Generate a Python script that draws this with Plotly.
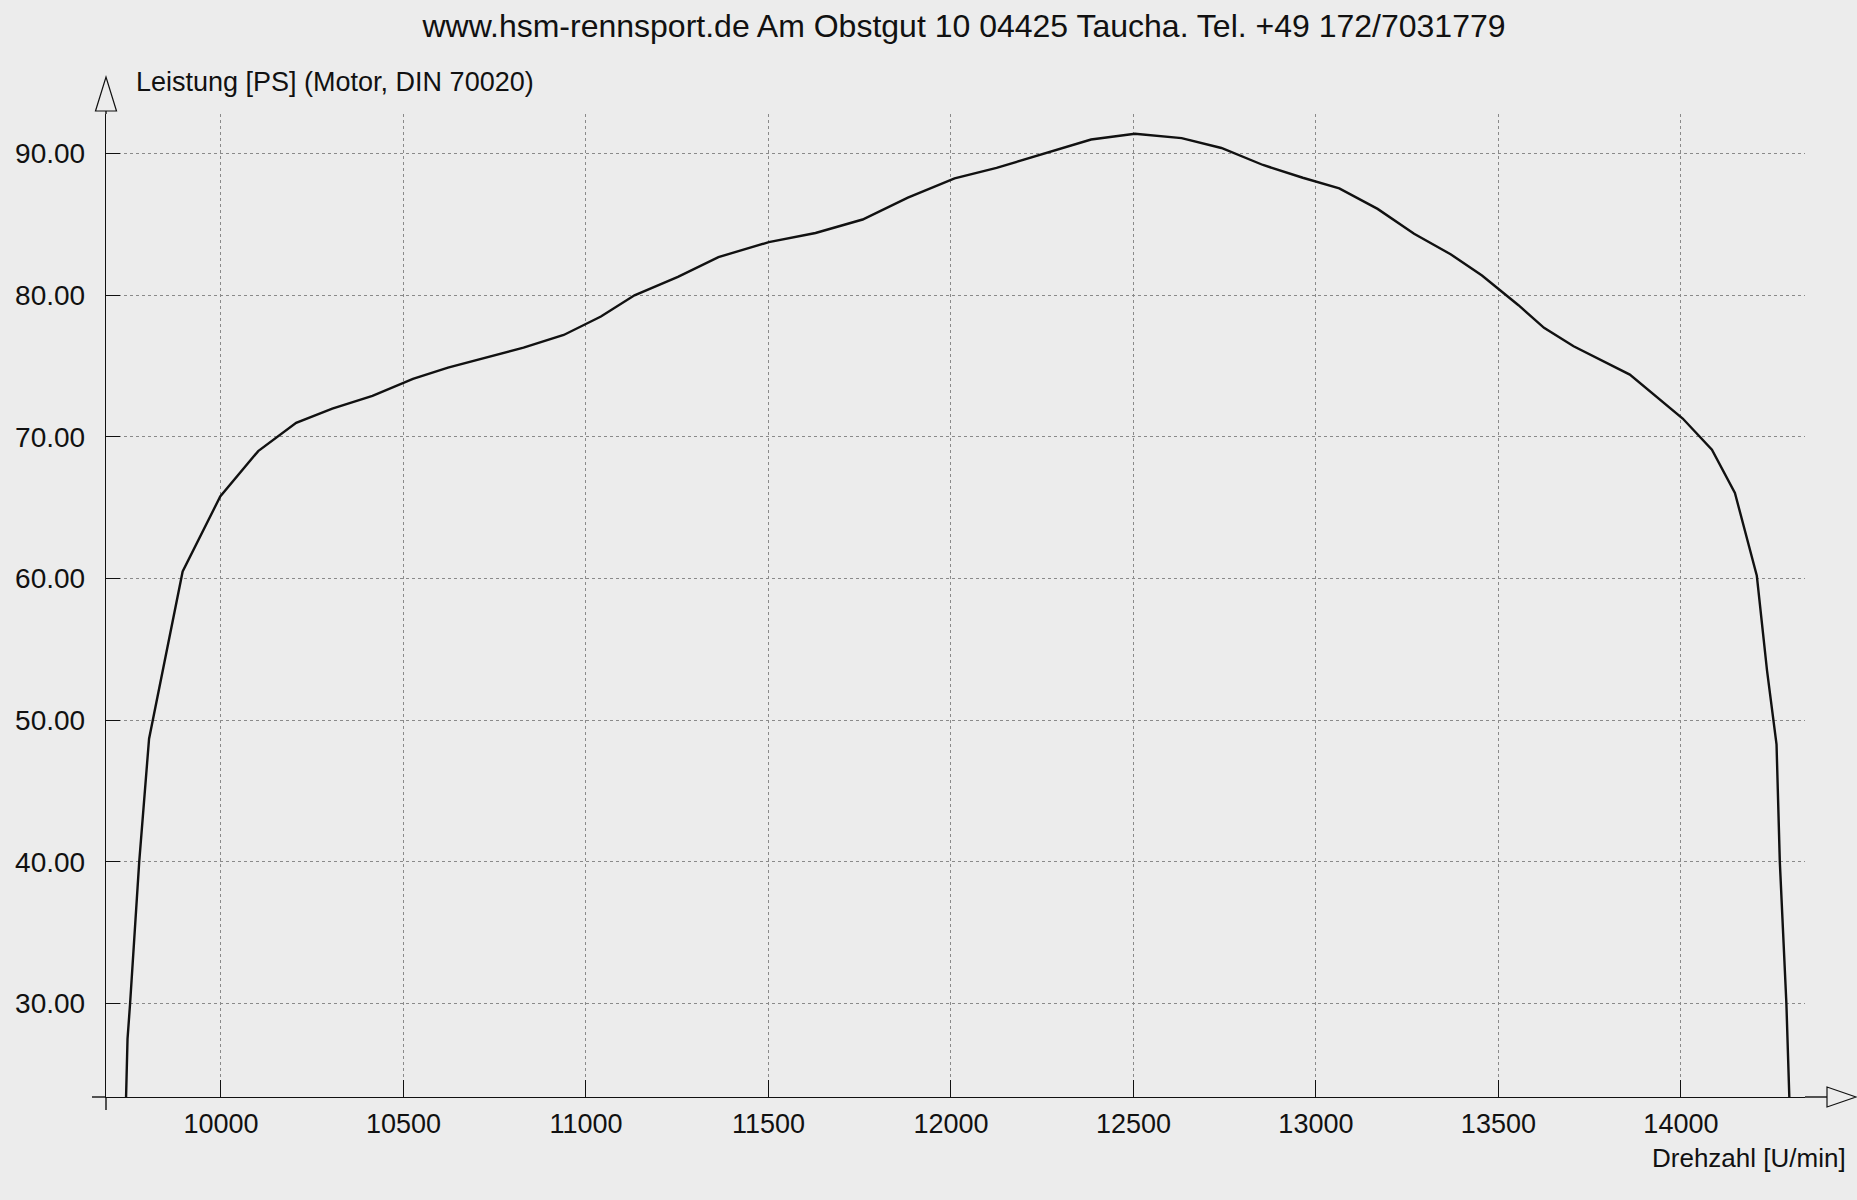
import plotly.graph_objects as go

# Leistungskurve (gelesen aus dem Diagramm)
rpm = [9740, 9744, 9751, 9776, 9803, 9895, 9998, 10102, 10206, 10305,
       10415, 10526, 10622, 10728, 10829, 10939, 11041, 11133, 11252, 11363,
       11501, 11629, 11758, 11882, 12010, 12125, 12384, 12504, 12632, 12741,
       12855, 12964, 13064, 13169, 13269, 13369, 13455, 13555, 13625, 13706,
       13860, 14005, 14085, 14148, 14208, 14236, 14262, 14271, 14289, 14297]
leistung = [23.4, 27.5, 30.0, 40.0, 48.7, 60.5, 65.8, 69.0, 71.0, 72.0,
            72.9, 74.1, 74.9, 75.6, 76.3, 77.2, 78.5, 80.0, 81.3, 82.7,
            83.75, 84.4, 85.35, 86.9, 88.25, 89.0, 91.0, 91.4, 91.1, 90.4,
            89.2, 88.3, 87.55, 86.1, 84.35, 82.9, 81.4, 79.3, 77.7, 76.4,
            74.4, 71.3, 69.1, 66.05, 60.2, 53.5, 48.3, 40.0, 30.0, 23.4]

rpm_ticks = [10000, 10500, 11000, 11500, 12000, 12500, 13000, 13500, 14000]
rpm_labels = ["10000", "10500", "11000", "11500", "12000", "12500", "13000", "13500", "14000"]
ps_ticks = [30, 40, 50, 60, 70, 80, 90]
ps_labels = ["30.00", "40.00", "50.00", "60.00", "70.00", "80.00", "90.00"]

x_range = [9685, 14340]
y_range = [23.4, 92.8]

W, H = 1857, 1200
L, R, T, B = 106, 52, 114, 103
pw, ph = W - L - R, H - T - B
BG = "#ececec"
INK = "#111111"
FONT = "Arial, Liberation Sans, sans-serif"


def px(x):
    return (x - L) / pw


def py(y):
    return (H - B - y) / ph


fig = go.Figure()
fig.add_trace(go.Scatter(x=rpm, y=leistung, mode="lines",
                         line=dict(color=INK, width=2.4),
                         showlegend=False, hoverinfo="skip"))

grid = dict(showgrid=True, griddash="dot", gridcolor="#8a8a8a", gridwidth=1)

fig.update_layout(
    width=W, height=H,
    margin=dict(l=L, r=R, t=T, b=B),
    paper_bgcolor=BG, plot_bgcolor=BG,
    title=dict(text="www.hsm-rennsport.de Am Obstgut 10 04425 Taucha. Tel. +49 172/7031779",
               x=964 / W, y=1 - 26 / H, xanchor="center", yanchor="middle",
               font=dict(family=FONT, size=32, color=INK)),
    # Hauptachsen: Beschriftung + Striche nach innen
    xaxis=dict(range=x_range, tickvals=rpm_ticks, ticktext=rpm_labels,
               ticks="inside", ticklen=17, tickwidth=1.2, tickcolor=INK,
               ticklabelstandoff=2,
               tickfont=dict(family=FONT, size=27, color=INK),
               showline=True, linecolor=INK, linewidth=1.4, zeroline=False, **grid),
    yaxis=dict(range=y_range, tickvals=ps_ticks, ticktext=ps_labels,
               ticks="inside", ticklen=14, tickwidth=1.2, tickcolor=INK,
               ticklabelstandoff=14,
               tickfont=dict(family=FONT, size=28, color=INK),
               showline=True, linecolor=INK, linewidth=1.4, zeroline=False, **grid),
    # zweite Achsen nur fuer die Striche nach aussen
    xaxis2=dict(range=x_range, overlaying="x", anchor="y2", side="bottom",
                tickvals=rpm_ticks, ticks="outside", ticklen=13, tickcolor=INK,
                tickwidth=1.2, showticklabels=False, showgrid=False, zeroline=False),
    yaxis2=dict(range=y_range, overlaying="y", anchor="x2", side="left",
                tickvals=ps_ticks, ticks="outside", ticklen=14, tickcolor=INK,
                tickwidth=1.2, showticklabels=False, showgrid=False, zeroline=False),
)

line_style = dict(color=INK, width=1.4)
shapes = [
    # Y-Achse Verlaengerung und Pfeil
    dict(type="line", xref="paper", yref="paper", x0=0, x1=0, y0=1, y1=py(111), line=line_style),
    dict(type="path", xref="paper", yref="paper",
         path=f"M {px(95.5)},{py(111)} L {px(116.5)},{py(111)} L {px(106)},{py(77)} Z",
         fillcolor=BG, line=dict(color=INK, width=1.2)),
    # X-Achse Verlaengerung und Pfeil
    dict(type="line", xref="paper", yref="paper", x0=1, x1=px(1827), y0=0, y1=0, line=line_style),
    dict(type="path", xref="paper", yref="paper",
         path=f"M {px(1827)},{py(1087)} L {px(1827)},{py(1107)} L {px(1856)},{py(1097)} Z",
         fillcolor=BG, line=dict(color=INK, width=1.2)),
    # Achsen-Ueberstand am Ursprung
    dict(type="line", xref="paper", yref="paper", x0=0, x1=0, y0=0, y1=py(1110), line=line_style),
    dict(type="line", xref="paper", yref="paper", x0=px(92), x1=0, y0=0, y1=0, line=line_style),
]
fig.update_layout(shapes=shapes)

fig.add_annotation(text="Leistung [PS] (Motor, DIN 70020)", xref="paper", yref="paper",
                   x=px(134), y=py(82), xanchor="left", yanchor="middle", showarrow=False,
                   font=dict(family=FONT, size=27, color=INK))
fig.add_annotation(text="Drehzahl [U/min]", xref="paper", yref="paper",
                   x=px(1848), y=py(1158), xanchor="right", yanchor="middle", showarrow=False,
                   font=dict(family=FONT, size=26, color=INK))

# Seitenrand des Browsers entfernen, damit die Grafik genau im Fenster sitzt
fig.write_html("out.html", config={"displayModeBar": False},
               post_script="document.body.style.margin='0';document.body.style.background='#ececec';")
